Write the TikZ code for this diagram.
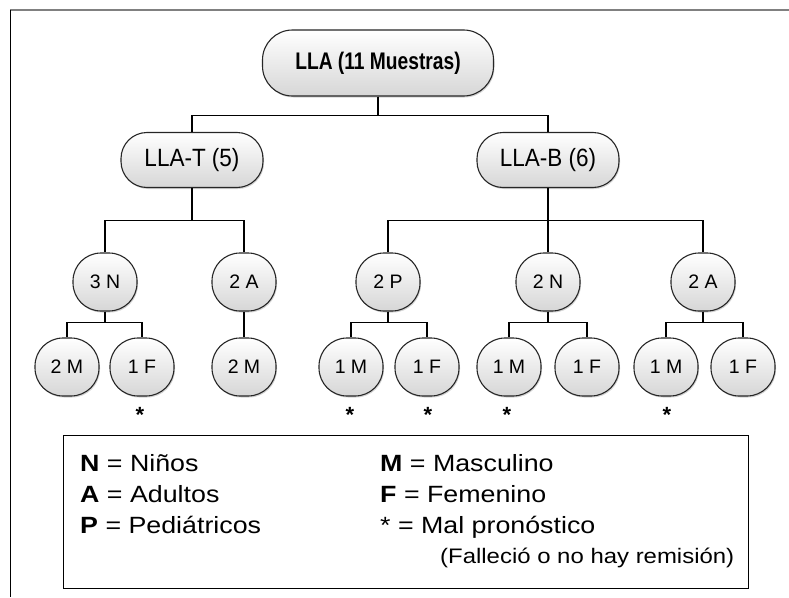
\documentclass[tikz,border=0pt]{standalone}
\usepackage{fontspec}
\setmainfont{Liberation Sans}
\newfontfamily\rootfont[FakeStretch=0.8]{Liberation Sans}
\newfontfamily\groupfont[FakeStretch=0.9]{Liberation Sans}
\newfontfamily\legendfont[FakeStretch=1.14]{Liberation Sans}
\usetikzlibrary{shadows,positioning}
\tikzset{
  pill/.style={
      rectangle,
      inner sep=1mm,
      draw=black!85,
      line width=1.1pt,
      top color=white,
      bottom color=black!16,
      drop shadow={opacity=0.35,shadow xshift=1pt,shadow yshift=-1.5pt}
  },
  rootbox/.style={pill,rounded corners=30pt,minimum width=231pt,minimum height=66pt,
      font=\rootfont\fontsize{24}{26}\selectfont\bfseries},
  groupbox/.style={pill,rounded corners=26pt,minimum width=142pt,minimum height=55pt,
      font=\groupfont\fontsize{25}{28}\selectfont},
  leafbox/.style={pill,rounded corners=28pt,minimum width=64pt,minimum height=58pt,
      font=\fontsize{19.5}{22}\selectfont},
  mark star/.style={font=\fontsize{22}{24}\selectfont\bfseries,inner sep=0pt},
  legend/.style={anchor=base west,inner sep=0pt,font=\legendfont\fontsize{23.5}{26}\selectfont},
  branch/.style={line width=1.1pt,draw=black}
}

\begin{document}
\begin{tikzpicture}[x=1pt,y=-1pt]
    \useasboundingbox (0,0) rectangle (789,597);
    % outer frame
    \draw[line width=1.6pt,draw=black!50] (10,10) -- (789,10);
    \draw[line width=1pt] (10,10) -- (10,597);

    % tree
    \node[rootbox] (root) at (378,63) {LLA (11 Muestras)};
    \node[groupbox] (llat) at (192,160) {LLA-T (5)};
    \node[groupbox] (llab) at (548,160) {LLA-B (6)};

    \node[leafbox] (tn) at (105,282) {3 N};
    \node[leafbox] (ta) at (244,282) {2 A};
    \node[leafbox] (bp) at (388,282) {2 P};
    \node[leafbox] (bn) at (548,282) {2 N};
    \node[leafbox] (ba) at (703,282) {2 A};

    \node[leafbox] (tnm) at (67,367) {2 M};
    \node[leafbox] (tnf) at (142,367) {1 F};
    \node[leafbox] (tam) at (244,367) {2 M};
    \node[leafbox] (bpm) at (351,367) {1 M};
    \node[leafbox] (bpf) at (427,367) {1 F};
    \node[leafbox] (bnm) at (509,367) {1 M};
    \node[leafbox] (bnf) at (587,367) {1 F};
    \node[leafbox] (bam) at (666,367) {1 M};
    \node[leafbox] (baf) at (743,367) {1 F};

    \draw[branch] (root.south) -- ++(0,19) -| (llat.north);
    \draw[branch] (root.south) -- ++(0,19) -| (llab.north);
    \foreach \kid in {tn,ta}
      \draw[branch] (llat.south) -- ++(0,32) -| (\kid.north);
    \foreach \kid in {bp,bn,ba}
      \draw[branch] (llab.south) -- ++(0,32) -| (\kid.north);
    \foreach \kid in {tnm,tnf}
      \draw[branch] (tn.south) -- ++(0,11) -| (\kid.north);
    \draw[branch] (ta.south) -- (tam.north);
    \foreach \kid in {bpm,bpf}
      \draw[branch] (bp.south) -- ++(0,11) -| (\kid.north);
    \foreach \kid in {bnm,bnf}
      \draw[branch] (bn.south) -- ++(0,11) -| (\kid.north);
    \foreach \kid in {bam,baf}
      \draw[branch] (ba.south) -- ++(0,11) -| (\kid.north);

    % poor prognosis marks
    \node[mark star] (s1) at (140,415) {*};
    \node[mark star] (s2) at (350,415) {*};
    \node[mark star] (s3) at (428,415) {*};
    \node[mark star] (s4) at (507,415) {*};
    \node[mark star] (s5) at (667,415) {*};

    % legend
    \draw[line width=1pt] (63,435) rectangle (748,588);
    \node[legend] (ln) at (80,471) {\textbf{N} = Niños};
    \node[legend] (la) at (80,502) {\textbf{A} = Adultos};
    \node[legend] (lp) at (80,533) {\textbf{P} = Pediátricos};
    \node[legend] (lm) at (380,471) {\textbf{M} = Masculino};
    \node[legend] (lf) at (380,502) {\textbf{F} = Femenino};
    \node[legend] (ls) at (380,533) {* = Mal pronóstico};
    \node[legend,font=\legendfont\fontsize{21}{24}\selectfont] (lx) at (440,563) {(Falleció o no hay remisión)};
\end{tikzpicture}
\end{document}
